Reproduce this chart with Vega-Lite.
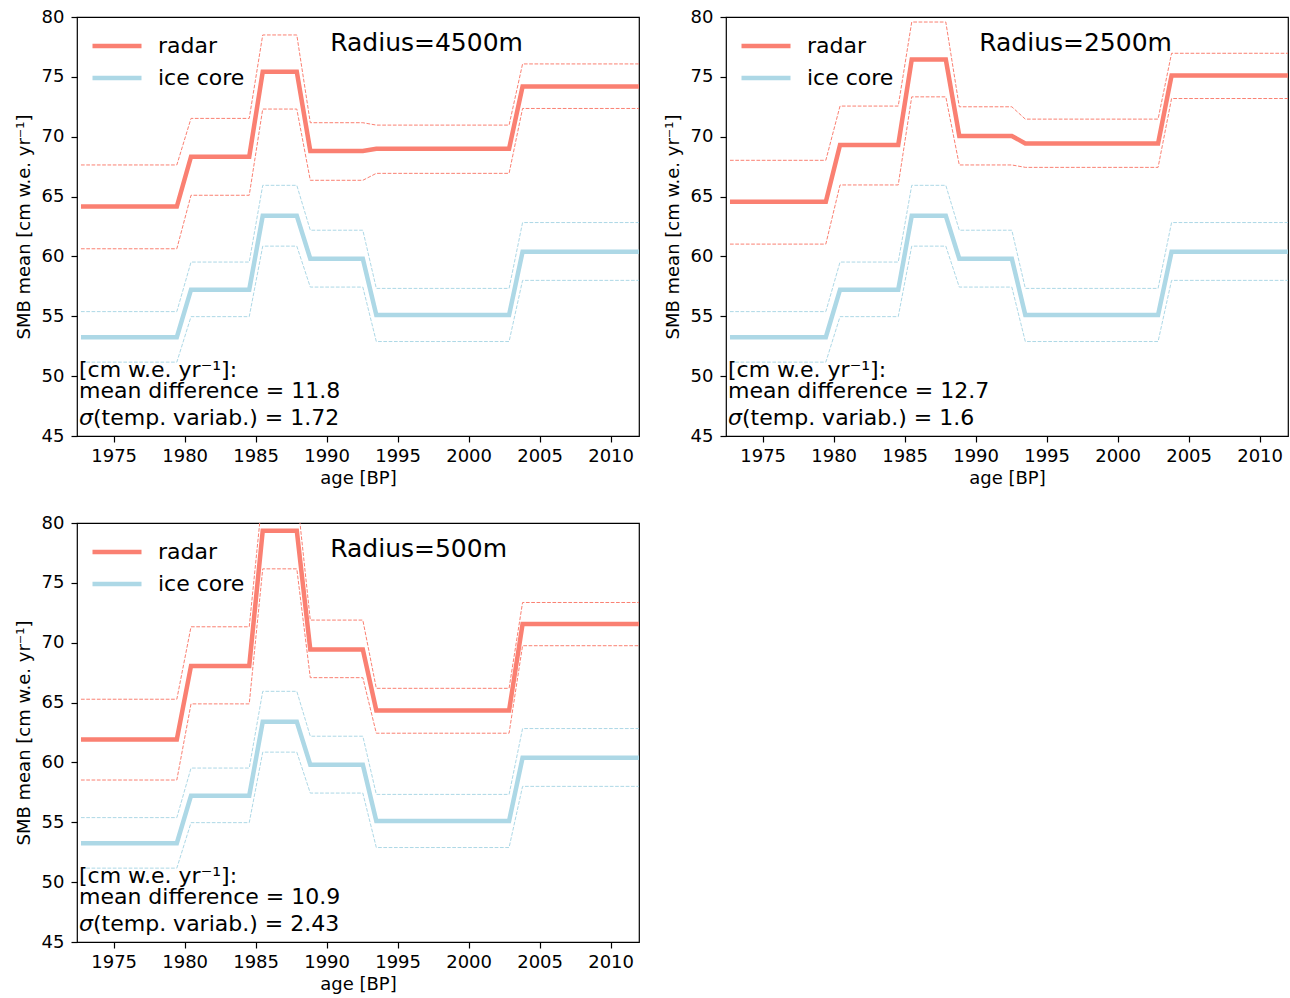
{
"$schema": "https://vega.github.io/schema/vega-lite/v6.json",
"background": "white",
"padding": {"left": 14, "top": 7, "right": 2, "bottom": 2},
"datasets": {
 "smb": [
  {"series":"radar","panel":"4500","year":1972.7,"mean":64.17,"upper":67.64,"lower":60.64},
  {"series":"radar","panel":"4500","year":1979.45,"mean":64.17,"upper":67.64,"lower":60.64},
  {"series":"radar","panel":"4500","year":1980.45,"mean":68.33,"upper":71.53,"lower":65.11},
  {"series":"radar","panel":"4500","year":1984.55,"mean":68.33,"upper":71.53,"lower":65.11},
  {"series":"radar","panel":"4500","year":1985.5,"mean":75.42,"upper":78.5,"lower":72.31},
  {"series":"radar","panel":"4500","year":1987.9,"mean":75.42,"upper":78.5,"lower":72.31},
  {"series":"radar","panel":"4500","year":1988.85,"mean":68.81,"upper":71.17,"lower":66.36},
  {"series":"radar","panel":"4500","year":1992.55,"mean":68.81,"upper":71.17,"lower":66.36},
  {"series":"radar","panel":"4500","year":1993.5,"mean":69.0,"upper":70.97,"lower":66.94},
  {"series":"radar","panel":"4500","year":2002.85,"mean":69.0,"upper":70.97,"lower":66.94},
  {"series":"radar","panel":"4500","year":2003.8,"mean":74.19,"upper":76.08,"lower":72.36},
  {"series":"radar","panel":"4500","year":2012.5,"mean":74.19,"upper":76.08,"lower":72.36},
  {"series":"radar","panel":"2500","year":1972.7,"mean":64.56,"upper":68.03,"lower":61.03},
  {"series":"radar","panel":"2500","year":1979.45,"mean":64.56,"upper":68.03,"lower":61.03},
  {"series":"radar","panel":"2500","year":1980.45,"mean":69.31,"upper":72.56,"lower":65.97},
  {"series":"radar","panel":"2500","year":1984.55,"mean":69.31,"upper":72.56,"lower":65.97},
  {"series":"radar","panel":"2500","year":1985.5,"mean":76.44,"upper":79.58,"lower":73.33},
  {"series":"radar","panel":"2500","year":1987.9,"mean":76.44,"upper":79.58,"lower":73.33},
  {"series":"radar","panel":"2500","year":1988.85,"mean":70.06,"upper":72.5,"lower":67.64},
  {"series":"radar","panel":"2500","year":1992.55,"mean":70.06,"upper":72.5,"lower":67.64},
  {"series":"radar","panel":"2500","year":1993.5,"mean":69.44,"upper":71.47,"lower":67.44},
  {"series":"radar","panel":"2500","year":2002.85,"mean":69.44,"upper":71.47,"lower":67.44},
  {"series":"radar","panel":"2500","year":2003.8,"mean":75.11,"upper":76.97,"lower":73.19},
  {"series":"radar","panel":"2500","year":2012.5,"mean":75.11,"upper":76.97,"lower":73.19},
  {"series":"radar","panel":"500","year":1972.7,"mean":61.92,"upper":65.28,"lower":58.53},
  {"series":"radar","panel":"500","year":1979.45,"mean":61.92,"upper":65.28,"lower":58.53},
  {"series":"radar","panel":"500","year":1980.45,"mean":68.06,"upper":71.33,"lower":64.89},
  {"series":"radar","panel":"500","year":1984.55,"mean":68.06,"upper":71.33,"lower":64.89},
  {"series":"radar","panel":"500","year":1985.5,"mean":79.36,"upper":82.5,"lower":76.17},
  {"series":"radar","panel":"500","year":1987.9,"mean":79.36,"upper":82.5,"lower":76.17},
  {"series":"radar","panel":"500","year":1988.85,"mean":69.44,"upper":71.89,"lower":67.08},
  {"series":"radar","panel":"500","year":1992.55,"mean":69.44,"upper":71.89,"lower":67.08},
  {"series":"radar","panel":"500","year":1993.5,"mean":64.33,"upper":66.19,"lower":62.44},
  {"series":"radar","panel":"500","year":2002.85,"mean":64.33,"upper":66.19,"lower":62.44},
  {"series":"radar","panel":"500","year":2003.8,"mean":71.56,"upper":73.36,"lower":69.75},
  {"series":"radar","panel":"500","year":2012.5,"mean":71.56,"upper":73.36,"lower":69.75},
  {"series":"ice core","panel":"all","year":1972.7,"mean":53.25,"upper":55.39,"lower":51.17},
  {"series":"ice core","panel":"all","year":1979.45,"mean":53.25,"upper":55.39,"lower":51.17},
  {"series":"ice core","panel":"all","year":1980.45,"mean":57.22,"upper":59.53,"lower":54.97},
  {"series":"ice core","panel":"all","year":1984.55,"mean":57.22,"upper":59.53,"lower":54.97},
  {"series":"ice core","panel":"all","year":1985.5,"mean":63.39,"upper":65.94,"lower":60.86},
  {"series":"ice core","panel":"all","year":1987.9,"mean":63.39,"upper":65.94,"lower":60.86},
  {"series":"ice core","panel":"all","year":1988.85,"mean":59.81,"upper":62.19,"lower":57.44},
  {"series":"ice core","panel":"all","year":1992.55,"mean":59.81,"upper":62.19,"lower":57.44},
  {"series":"ice core","panel":"all","year":1993.5,"mean":55.11,"upper":57.33,"lower":52.89},
  {"series":"ice core","panel":"all","year":2002.85,"mean":55.11,"upper":57.33,"lower":52.89},
  {"series":"ice core","panel":"all","year":2003.8,"mean":60.39,"upper":62.83,"lower":58.0},
  {"series":"ice core","panel":"all","year":2012.5,"mean":60.39,"upper":62.83,"lower":58.0}
 ],
 "panels": [
  {"panel":"4500","title":"Radius=4500m","diff":"mean difference = 11.8","sigma":"(temp. variab.) = 1.72"},
  {"panel":"2500","title":"Radius=2500m","diff":"mean difference = 12.7","sigma":"(temp. variab.) = 1.6"},
  {"panel":"500","title":"Radius=500m","diff":"mean difference = 10.9","sigma":"(temp. variab.) = 2.43"}
 ]
},
"columns": 2,
"spacing": {"row": 87, "column": 87},
"bounds": "flush",
"resolve": {"scale": {"color": "independent"}, "legend": {"color": "independent"}},
"concat": [
 {"width":562,"height":419,"layer":[
  {"data":{"name":"smb"},"transform":[{"filter":"datum.panel=='all' || datum.panel=='4500'"}],
   "mark":{"type":"line","clip":true,"strokeWidth":4.5},
   "encoding":{
    "x":{"field":"year","type":"quantitative","title":"age [BP]","scale":{"domain":[1972.42,2012.0],"nice":false,"zero":false},"axis":{"values":[1975,1980,1985,1990,1995,2000,2005,2010],"format":"d","labelFlush":false}},
    "y":{"field":"mean","type":"quantitative","title":"SMB mean [cm w.e. yr⁻¹]","scale":{"domain":[45,80],"nice":false,"zero":false},"axis":{"values":[45,50,55,60,65,70,75,80]}},
    "color":{"field":"series","type":"nominal","scale":{"domain":["radar","ice core"],"range":["#FA8072","#ADD8E6"]},"title":null}}},
  {"data":{"name":"smb"},"transform":[{"filter":"datum.panel=='all' || datum.panel=='4500'"},{"fold":["upper","lower"],"as":["band","value"]}],
   "mark":{"type":"line","clip":true,"strokeWidth":1,"strokeDash":[3.7,1.6]},
   "encoding":{
    "x":{"field":"year","type":"quantitative","title":"age [BP]","scale":{"domain":[1972.42,2012.0],"nice":false,"zero":false}},
    "y":{"field":"value","type":"quantitative","title":"SMB mean [cm w.e. yr⁻¹]","scale":{"domain":[45,80],"nice":false,"zero":false}},
    "color":{"field":"series","type":"nominal","scale":{"domain":["radar","ice core"],"range":["#FA8072","#ADD8E6"]},"title":null},
    "detail":{"field":"band"}}},
  {"data":{"name":"panels"},"transform":[{"filter":"datum.panel=='4500'"}],
   "mark":{"type":"text","align":"left","baseline":"alphabetic","fontSize":25,"color":"black"},
   "encoding":{"x":{"datum":1990.25,"type":"quantitative","title":"age [BP]","scale":{"domain":[1972.42,2012.0],"nice":false,"zero":false}},
    "y":{"datum":77.15,"type":"quantitative","title":"SMB mean [cm w.e. yr⁻¹]","scale":{"domain":[45,80],"nice":false,"zero":false}},
    "text":{"field":"title"}}},
  {"data":{"name":"panels"},"transform":[{"filter":"datum.panel=='4500'"}],
   "mark":{"type":"text","align":"left","baseline":"alphabetic","fontSize":22,"color":"black"},
   "encoding":{"x":{"datum":1972.56,"type":"quantitative","title":"age [BP]","scale":{"domain":[1972.42,2012.0],"nice":false,"zero":false}},
    "y":{"datum":49.95,"type":"quantitative","title":"SMB mean [cm w.e. yr⁻¹]","scale":{"domain":[45,80],"nice":false,"zero":false}},
    "text":{"value":"[cm w.e. yr⁻¹]:"}}},
  {"data":{"name":"panels"},"transform":[{"filter":"datum.panel=='4500'"}],
   "mark":{"type":"text","align":"left","baseline":"alphabetic","fontSize":22,"color":"black"},
   "encoding":{"x":{"datum":1972.56,"type":"quantitative","title":"age [BP]","scale":{"domain":[1972.42,2012.0],"nice":false,"zero":false}},
    "y":{"datum":48.19,"type":"quantitative","title":"SMB mean [cm w.e. yr⁻¹]","scale":{"domain":[45,80],"nice":false,"zero":false}},
    "text":{"field":"diff"}}},
  {"data":{"name":"panels"},"transform":[{"filter":"datum.panel=='4500'"}],
   "mark":{"type":"text","align":"left","baseline":"alphabetic","fontSize":22,"fontStyle":"italic","color":"black"},
   "encoding":{"x":{"datum":1972.56,"type":"quantitative","title":"age [BP]","scale":{"domain":[1972.42,2012.0],"nice":false,"zero":false}},
    "y":{"datum":45.92,"type":"quantitative","title":"SMB mean [cm w.e. yr⁻¹]","scale":{"domain":[45,80],"nice":false,"zero":false}},
    "text":{"value":"σ"}}},
  {"data":{"name":"panels"},"transform":[{"filter":"datum.panel=='4500'"}],
   "mark":{"type":"text","align":"left","baseline":"alphabetic","fontSize":22,"dx":14,"color":"black"},
   "encoding":{"x":{"datum":1972.56,"type":"quantitative","title":"age [BP]","scale":{"domain":[1972.42,2012.0],"nice":false,"zero":false}},
    "y":{"datum":45.92,"type":"quantitative","title":"SMB mean [cm w.e. yr⁻¹]","scale":{"domain":[45,80],"nice":false,"zero":false}},
    "text":{"field":"sigma"}}}
 ]},
 {"width":562,"height":419,"layer":[
  {"data":{"name":"smb"},"transform":[{"filter":"datum.panel=='all' || datum.panel=='2500'"}],
   "mark":{"type":"line","clip":true,"strokeWidth":4.5},
   "encoding":{
    "x":{"field":"year","type":"quantitative","title":"age [BP]","scale":{"domain":[1972.42,2012.0],"nice":false,"zero":false},"axis":{"values":[1975,1980,1985,1990,1995,2000,2005,2010],"format":"d","labelFlush":false}},
    "y":{"field":"mean","type":"quantitative","title":"SMB mean [cm w.e. yr⁻¹]","scale":{"domain":[45,80],"nice":false,"zero":false},"axis":{"values":[45,50,55,60,65,70,75,80]}},
    "color":{"field":"series","type":"nominal","scale":{"domain":["radar","ice core"],"range":["#FA8072","#ADD8E6"]},"title":null}}},
  {"data":{"name":"smb"},"transform":[{"filter":"datum.panel=='all' || datum.panel=='2500'"},{"fold":["upper","lower"],"as":["band","value"]}],
   "mark":{"type":"line","clip":true,"strokeWidth":1,"strokeDash":[3.7,1.6]},
   "encoding":{
    "x":{"field":"year","type":"quantitative","title":"age [BP]","scale":{"domain":[1972.42,2012.0],"nice":false,"zero":false}},
    "y":{"field":"value","type":"quantitative","title":"SMB mean [cm w.e. yr⁻¹]","scale":{"domain":[45,80],"nice":false,"zero":false}},
    "color":{"field":"series","type":"nominal","scale":{"domain":["radar","ice core"],"range":["#FA8072","#ADD8E6"]},"title":null},
    "detail":{"field":"band"}}},
  {"data":{"name":"panels"},"transform":[{"filter":"datum.panel=='2500'"}],
   "mark":{"type":"text","align":"left","baseline":"alphabetic","fontSize":25,"color":"black"},
   "encoding":{"x":{"datum":1990.25,"type":"quantitative","title":"age [BP]","scale":{"domain":[1972.42,2012.0],"nice":false,"zero":false}},
    "y":{"datum":77.15,"type":"quantitative","title":"SMB mean [cm w.e. yr⁻¹]","scale":{"domain":[45,80],"nice":false,"zero":false}},
    "text":{"field":"title"}}},
  {"data":{"name":"panels"},"transform":[{"filter":"datum.panel=='2500'"}],
   "mark":{"type":"text","align":"left","baseline":"alphabetic","fontSize":22,"color":"black"},
   "encoding":{"x":{"datum":1972.56,"type":"quantitative","title":"age [BP]","scale":{"domain":[1972.42,2012.0],"nice":false,"zero":false}},
    "y":{"datum":49.95,"type":"quantitative","title":"SMB mean [cm w.e. yr⁻¹]","scale":{"domain":[45,80],"nice":false,"zero":false}},
    "text":{"value":"[cm w.e. yr⁻¹]:"}}},
  {"data":{"name":"panels"},"transform":[{"filter":"datum.panel=='2500'"}],
   "mark":{"type":"text","align":"left","baseline":"alphabetic","fontSize":22,"color":"black"},
   "encoding":{"x":{"datum":1972.56,"type":"quantitative","title":"age [BP]","scale":{"domain":[1972.42,2012.0],"nice":false,"zero":false}},
    "y":{"datum":48.19,"type":"quantitative","title":"SMB mean [cm w.e. yr⁻¹]","scale":{"domain":[45,80],"nice":false,"zero":false}},
    "text":{"field":"diff"}}},
  {"data":{"name":"panels"},"transform":[{"filter":"datum.panel=='2500'"}],
   "mark":{"type":"text","align":"left","baseline":"alphabetic","fontSize":22,"fontStyle":"italic","color":"black"},
   "encoding":{"x":{"datum":1972.56,"type":"quantitative","title":"age [BP]","scale":{"domain":[1972.42,2012.0],"nice":false,"zero":false}},
    "y":{"datum":45.92,"type":"quantitative","title":"SMB mean [cm w.e. yr⁻¹]","scale":{"domain":[45,80],"nice":false,"zero":false}},
    "text":{"value":"σ"}}},
  {"data":{"name":"panels"},"transform":[{"filter":"datum.panel=='2500'"}],
   "mark":{"type":"text","align":"left","baseline":"alphabetic","fontSize":22,"dx":14,"color":"black"},
   "encoding":{"x":{"datum":1972.56,"type":"quantitative","title":"age [BP]","scale":{"domain":[1972.42,2012.0],"nice":false,"zero":false}},
    "y":{"datum":45.92,"type":"quantitative","title":"SMB mean [cm w.e. yr⁻¹]","scale":{"domain":[45,80],"nice":false,"zero":false}},
    "text":{"field":"sigma"}}}
 ]},
 {"width":562,"height":419,"layer":[
  {"data":{"name":"smb"},"transform":[{"filter":"datum.panel=='all' || datum.panel=='500'"}],
   "mark":{"type":"line","clip":true,"strokeWidth":4.5},
   "encoding":{
    "x":{"field":"year","type":"quantitative","title":"age [BP]","scale":{"domain":[1972.42,2012.0],"nice":false,"zero":false},"axis":{"values":[1975,1980,1985,1990,1995,2000,2005,2010],"format":"d","labelFlush":false}},
    "y":{"field":"mean","type":"quantitative","title":"SMB mean [cm w.e. yr⁻¹]","scale":{"domain":[45,80],"nice":false,"zero":false},"axis":{"values":[45,50,55,60,65,70,75,80]}},
    "color":{"field":"series","type":"nominal","scale":{"domain":["radar","ice core"],"range":["#FA8072","#ADD8E6"]},"title":null}}},
  {"data":{"name":"smb"},"transform":[{"filter":"datum.panel=='all' || datum.panel=='500'"},{"fold":["upper","lower"],"as":["band","value"]}],
   "mark":{"type":"line","clip":true,"strokeWidth":1,"strokeDash":[3.7,1.6]},
   "encoding":{
    "x":{"field":"year","type":"quantitative","title":"age [BP]","scale":{"domain":[1972.42,2012.0],"nice":false,"zero":false}},
    "y":{"field":"value","type":"quantitative","title":"SMB mean [cm w.e. yr⁻¹]","scale":{"domain":[45,80],"nice":false,"zero":false}},
    "color":{"field":"series","type":"nominal","scale":{"domain":["radar","ice core"],"range":["#FA8072","#ADD8E6"]},"title":null},
    "detail":{"field":"band"}}},
  {"data":{"name":"panels"},"transform":[{"filter":"datum.panel=='500'"}],
   "mark":{"type":"text","align":"left","baseline":"alphabetic","fontSize":25,"color":"black"},
   "encoding":{"x":{"datum":1990.25,"type":"quantitative","title":"age [BP]","scale":{"domain":[1972.42,2012.0],"nice":false,"zero":false}},
    "y":{"datum":77.15,"type":"quantitative","title":"SMB mean [cm w.e. yr⁻¹]","scale":{"domain":[45,80],"nice":false,"zero":false}},
    "text":{"field":"title"}}},
  {"data":{"name":"panels"},"transform":[{"filter":"datum.panel=='500'"}],
   "mark":{"type":"text","align":"left","baseline":"alphabetic","fontSize":22,"color":"black"},
   "encoding":{"x":{"datum":1972.56,"type":"quantitative","title":"age [BP]","scale":{"domain":[1972.42,2012.0],"nice":false,"zero":false}},
    "y":{"datum":49.95,"type":"quantitative","title":"SMB mean [cm w.e. yr⁻¹]","scale":{"domain":[45,80],"nice":false,"zero":false}},
    "text":{"value":"[cm w.e. yr⁻¹]:"}}},
  {"data":{"name":"panels"},"transform":[{"filter":"datum.panel=='500'"}],
   "mark":{"type":"text","align":"left","baseline":"alphabetic","fontSize":22,"color":"black"},
   "encoding":{"x":{"datum":1972.56,"type":"quantitative","title":"age [BP]","scale":{"domain":[1972.42,2012.0],"nice":false,"zero":false}},
    "y":{"datum":48.19,"type":"quantitative","title":"SMB mean [cm w.e. yr⁻¹]","scale":{"domain":[45,80],"nice":false,"zero":false}},
    "text":{"field":"diff"}}},
  {"data":{"name":"panels"},"transform":[{"filter":"datum.panel=='500'"}],
   "mark":{"type":"text","align":"left","baseline":"alphabetic","fontSize":22,"fontStyle":"italic","color":"black"},
   "encoding":{"x":{"datum":1972.56,"type":"quantitative","title":"age [BP]","scale":{"domain":[1972.42,2012.0],"nice":false,"zero":false}},
    "y":{"datum":45.92,"type":"quantitative","title":"SMB mean [cm w.e. yr⁻¹]","scale":{"domain":[45,80],"nice":false,"zero":false}},
    "text":{"value":"σ"}}},
  {"data":{"name":"panels"},"transform":[{"filter":"datum.panel=='500'"}],
   "mark":{"type":"text","align":"left","baseline":"alphabetic","fontSize":22,"dx":14,"color":"black"},
   "encoding":{"x":{"datum":1972.56,"type":"quantitative","title":"age [BP]","scale":{"domain":[1972.42,2012.0],"nice":false,"zero":false}},
    "y":{"datum":45.92,"type":"quantitative","title":"SMB mean [cm w.e. yr⁻¹]","scale":{"domain":[45,80],"nice":false,"zero":false}},
    "text":{"field":"sigma"}}}
 ]}
],
"config": {
 "font": "DejaVu Sans",
 "view": {"stroke": "black", "strokeWidth": 1.2},
 "axis": {"grid": false, "domain": false, "tickColor": "black", "tickSize": 6, "tickWidth": 1.2,
  "labelFontSize": 18, "labelColor": "black", "labelFont": "DejaVu Sans", "labelPadding": 6,
  "titleFont": "DejaVu Sans", "titleFontSize": 18, "titleFontWeight": "normal", "titleColor": "black", "titlePadding": 6},
 "axisX": {"labelPadding": 5, "titlePadding": 4},
 "axisY": {"labelPadding": 7, "titlePadding": 8},
 "legend": {"orient": "none", "legendX": 13, "legendY": 13, "symbolType": "stroke", "symbolSize": 2401, "symbolStrokeWidth": 4.5,
  "labelFontSize": 22, "labelOffset": 14, "labelColor": "black", "labelFont": "DejaVu Sans", "padding": 0, "rowPadding": 0, "clipHeight": 32}
}
}
